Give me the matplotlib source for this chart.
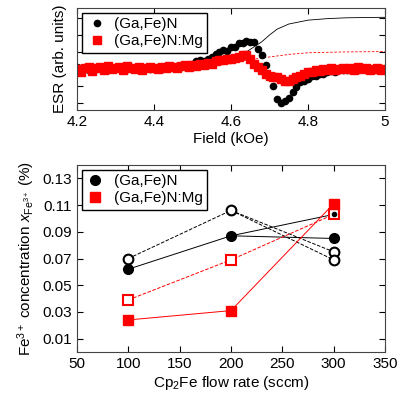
import numpy as np
import matplotlib
matplotlib.use("Agg")
import matplotlib.pyplot as plt

plt.rcParams['font.family'] = ['Liberation Sans', 'DejaVu Sans']
plt.rcParams['mathtext.fontset'] = 'custom'
plt.rcParams['mathtext.rm'] = 'Liberation Sans'
plt.rcParams['mathtext.it'] = 'Liberation Sans:italic'

# ESR data
field = np.round(np.arange(4.20, 5.001, 0.01), 2)
esr_fe = [0.1,0.05,0,-0.05,0.05,0,0.1,0,-0.05,0.05, 0,0.05,-0.05,0,0.1,0.05,0,-0.05,0.05,0,
          0.05,0.1,0,0.05,0.1,0.05,0.15,0.1,0.2,0.25,
          0.3,0.45,0.5,0.45,0.6,0.7,0.9,1.0,1.1,1.05,
          1.3,1.3,1.5,1.5,1.65,1.6,1.6,1.2,0.8,0.2,
          -0.4,-1.0,-1.8,-2.0,-1.9,-1.7,-1.4,-1.1,-0.8,-0.7,
          -0.6,-0.45,-0.4,-0.3,-0.3,-0.2,-0.15,-0.2,-0.1,-0.1,
          -0.1,0,-0.05,0,0.05,0,-0.05,0,0.05,0,0]
esr_mg = [0,-0.2,0.05,0.1,-0.15,0.05,0.1,-0.1,0.15,0, 0.05,0.1,-0.05,0.15,0.05,0,0.1,-0.05,0.05,0.1,
          0.05,0,0.1,0.05,0.15,0.1,0.05,0.15,0.2,0.1,
          0.2,0.15,0.3,0.25,0.35,0.3,0.45,0.5,0.55,0.6,
          0.6,0.65,0.7,0.8,0.8,0.6,0.3,0.1,-0.1,-0.3,
          -0.4,-0.5,-0.5,-0.6,-0.7,-0.75,-0.6,-0.5,-0.4,-0.3,
          -0.2,-0.2,-0.1,-0.15,0,-0.1,0.05,-0.05,0,0.05,
          0,0.05,-0.05,0.1,0,0.05,-0.05,0,0.05,-0.05,0]
fit_fe_x = [4.2,4.4,4.5,4.55,4.6,4.63,4.66,4.68,4.70,4.72,4.75,4.8,4.85,4.9,5.0]
fit_fe_y = [0,0.02,0.1,0.25,0.5,0.85,1.3,1.6,2.0,2.35,2.65,2.88,2.97,3.02,3.05]
fit_mg_x = [4.2,4.5,4.55,4.6,4.65,4.7,4.75,4.8,4.9,5.0]
fit_mg_y = [0,0.1,0.2,0.35,0.55,0.7,0.85,0.95,1.0,1.02]

# concentration data
flow = [100, 200, 300]
fe_filled = [0.062, 0.087, 0.085]
fe_filled_b = [0.087, 0.103]
fe_open = [0.070, 0.106, 0.075]
fe_open_b = [0.106, 0.069]
mg_filled = [0.024, 0.031, 0.111]
mg_open = [0.039, 0.069, 0.103]

fig = plt.figure(figsize=(4.15, 4.15), dpi=100)
ax1 = fig.add_axes([77/415, 1-110/415, 308/415, 102/415])
ax2 = fig.add_axes([77/415, 1-352/415, 308/415, 187/415])

ax1.plot(fit_fe_x, fit_fe_y, color='black', lw=0.6)
ax1.plot(fit_mg_x, fit_mg_y, color='red', lw=0.6, ls=(0, (3, 2)))
ax1.plot(field, esr_fe, 'o', color='black', ms=4.5, label='(Ga,Fe)N')
ax1.plot(field, esr_mg, 's', color='red', ms=5.5, label='(Ga,Fe)N:Mg')
ax1.set_xlim(4.2, 5.0)
ax1.set_ylim(-2.44, 3.6)
ax1.set_yticks([-2, -1, 0, 1, 2, 3])
ax1.set_yticklabels([])
ax1.set_xticks([4.2, 4.4, 4.6, 4.8, 5.0])
ax1.set_xticklabels(['4.2', '4.4', '4.6', '4.8', '5'])
ax1.set_xlabel('Field (kOe)', fontsize=11, labelpad=2)
ax1.set_ylabel('ESR (arb. units)', fontsize=11)
ax1.legend(loc='upper left', fontsize=11, handletextpad=0.4, handlelength=1.4,
           fancybox=False, edgecolor='black', borderpad=0.3, labelspacing=0.2,
           borderaxespad=0.3, framealpha=1)

ax2.plot(flow, fe_filled, '-', color='black', lw=0.7)
ax2.plot(flow[1:], fe_filled_b, '-', color='black', lw=0.7)
ax2.plot(flow, fe_open, '--', color='black', lw=0.7)
ax2.plot(flow[1:], fe_open_b, '--', color='black', lw=0.7)
ax2.plot(flow, mg_filled, '-', color='red', lw=0.7)
ax2.plot(flow, mg_open, '--', color='red', lw=0.7)
ax2.plot(flow, mg_open, 's', mfc='white', mec='red', mew=1.5, ms=7)
ax2.plot(flow, fe_open, 'o', mfc='white', mec='black', mew=1.5, ms=7)
ax2.plot(flow[2:], fe_open_b[1:], 'o', mfc='white', mec='black', mew=1.5, ms=7)
ax2.plot(flow, mg_filled, 's', color='red', ms=7)
ax2.plot(flow, fe_filled, 'o', color='black', ms=7)
ax2.plot(flow[2:], fe_filled_b[1:], 'o', color='black', ms=3)
h1, = ax2.plot([], [], 'o', color='black', ms=7, label='(Ga,Fe)N')
h2, = ax2.plot([], [], 's', color='red', ms=7, label='(Ga,Fe)N:Mg')
ax2.set_xlim(50, 350)
ax2.set_ylim(0, 0.14)
ax2.set_yticks([0.01, 0.03, 0.05, 0.07, 0.09, 0.11, 0.13])
ax2.set_xticks([50, 100, 150, 200, 250, 300, 350])
ax2.set_xlabel('Cp$_2$Fe flow rate (sccm)', fontsize=11, labelpad=2)
ax2.set_ylabel('Fe$^{3+}$ concentration $x_{\\mathrm{Fe}^{3+}}$ (%)', fontsize=11)
ax2.legend(handles=[h1, h2], loc='upper left', fontsize=11, handletextpad=0.6, handlelength=1.2,
           fancybox=False, edgecolor='black', borderpad=0.3, labelspacing=0.2,
           borderaxespad=0.3, framealpha=1)

for ax in (ax1, ax2):
    ax.tick_params(direction='in', top=True, right=True, labelsize=11, length=4)
    for s in ax.spines.values():
        s.set_color('#444444')

fig.savefig('out.png', dpi=100)
